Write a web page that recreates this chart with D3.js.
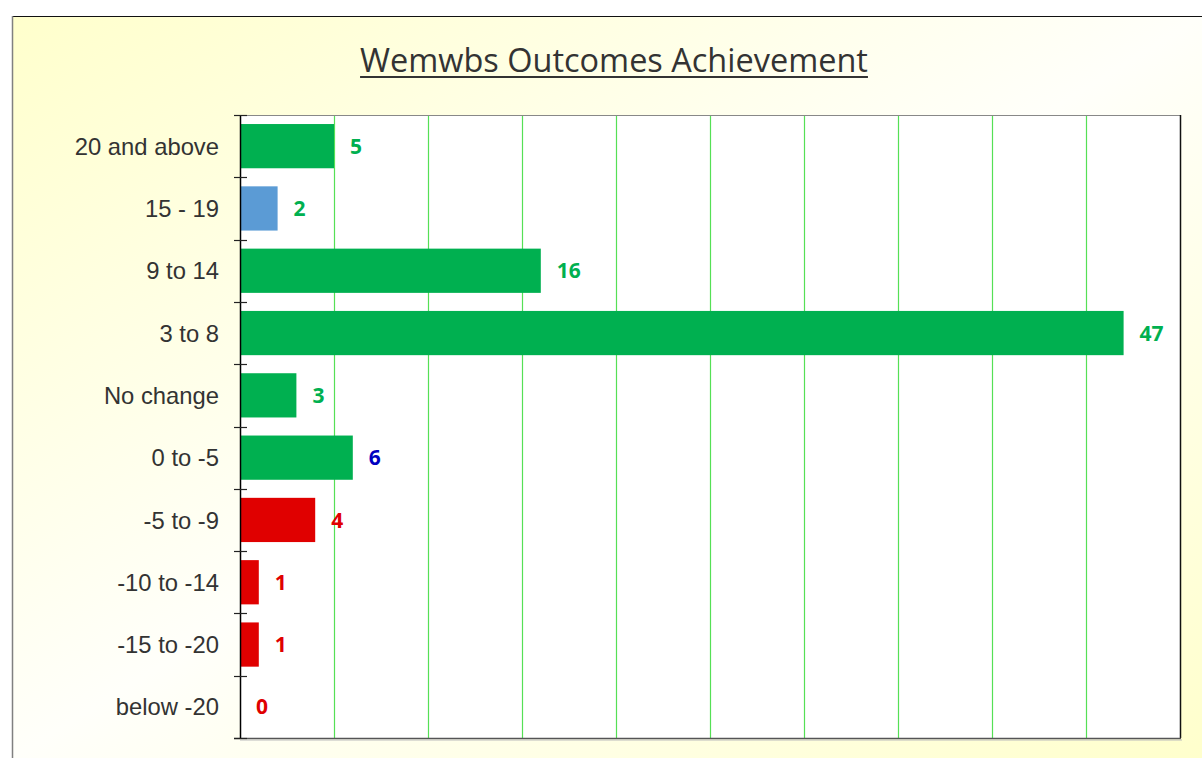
<!DOCTYPE html>
<html><head><meta charset="utf-8">
<script src="https://cdn.jsdelivr.net/npm/d3@7/dist/d3.min.js"></script>
<style>html,body{margin:0;padding:0;background:#fff;overflow:hidden}</style>
</head><body>
<svg id="c" width="1202" height="758"></svg>
<script>
const categories = ["20 and above","15 - 19","9 to 14","3 to 8","No change","0 to -5","-5 to -9","-10 to -14","-15 to -20","below -20"];
const values = [5, 2, 16, 47, 3, 6, 4, 1, 1, 0];
const barColors = ["#00b050","#5b9bd5","#00b050","#00b050","#00b050","#00b050","#e00000","#e00000","#e00000","#e00000"];
const labelColors = ["#00b050","#00b050","#00b050","#00b050","#00b050","#0000c0","#e00000","#e00000","#e00000","#e00000"];
const xTicks = [0,5,10,15,20,25,30,35,40,45,50];
const title = "Wemwbs Outcomes Achievement";

const svg = d3.select("#c");
const W = 1202, H = 758;
const defs = svg.append("defs");
const g = defs.append("linearGradient").attr("id","bg").attr("x1",0).attr("y1",0).attr("x2",1).attr("y2",1);
g.append("stop").attr("offset","0%").attr("stop-color","#ffffcc");
g.append("stop").attr("offset","50%").attr("stop-color","#fffffa");
g.append("stop").attr("offset","100%").attr("stop-color","#ffffcc");

svg.append("rect").attr("x",12).attr("y",16).attr("width",W-12).attr("height",H-16).attr("fill","url(#bg)");
svg.append("line").attr("x1",12).attr("y1",16.5).attr("x2",W).attr("y2",16.5).attr("stroke","#111").attr("stroke-width",1.2);
svg.append("line").attr("x1",12.5).attr("y1",16).attr("x2",12.5).attr("y2",H).attr("stroke","#808080").attr("stroke-width",1.5);

const L = 240, R = 1180, T = 115, B = 738;
const x = d3.scaleLinear().domain([0,50]).range([L,R]);
const pad = 0.29;
const y = d3.scaleBand().domain(categories).range([T,B]).paddingInner(pad).paddingOuter(pad/2);

svg.append("rect").attr("x",L).attr("y",T).attr("width",R-L).attr("height",B-T).attr("fill","#fff");

// gridlines
svg.append("g").selectAll("line").data(xTicks.filter(d=>d>0 && d<50)).join("line")
  .attr("x1",d=>Math.round(x(d))+0.5).attr("x2",d=>Math.round(x(d))+0.5)
  .attr("y1",T).attr("y2",B).attr("stroke","#55e055").attr("stroke-width",1.2);

// plot border
svg.append("line").attr("x1",L).attr("y1",T+0.5).attr("x2",R).attr("y2",T+0.5).attr("stroke","#888").attr("stroke-width",1.2);
svg.append("line").attr("x1",R+0.5).attr("y1",T).attr("x2",R+0.5).attr("y2",B).attr("stroke","#111").attr("stroke-width",1.5);
svg.append("line").attr("x1",L-6).attr("y1",B+0.5).attr("x2",R+1).attr("y2",B+0.5).attr("stroke","#555").attr("stroke-width",1.5);
svg.append("line").attr("x1",L).attr("y1",B+2).attr("x2",R+2).attr("y2",B+2).attr("stroke","#bbb").attr("stroke-width",1.2);

// bars
svg.append("g").selectAll("rect").data(values).join("rect")
  .attr("x",x(0)).attr("y",(d,i)=>y(categories[i]))
  .attr("width",d=>x(d)-x(0)).attr("height",y.bandwidth())
  .attr("fill",(d,i)=>barColors[i]);

// y axis
svg.append("line").attr("x1",L+0.5).attr("y1",T).attr("x2",L+0.5).attr("y2",B).attr("stroke","#000").attr("stroke-width",1.5);
const step = y.step();
const bounds = d3.range(categories.length+1).map(i=> i<categories.length ? y(categories[i]) - step*pad/2 : y(categories[i-1]) + y.bandwidth() + step*pad/2);
svg.append("g").selectAll("line").data(bounds).join("line")
  .attr("x1",L-6).attr("x2",L+7).attr("y1",d=>Math.round(d)+0.5).attr("y2",d=>Math.round(d)+0.5)
  .attr("stroke","#222").attr("stroke-width",1.2);

// category labels
svg.append("g").selectAll("text").data(categories).join("text")
  .attr("x",219).attr("y",d=>y(d)+y.bandwidth()/2)
  .attr("dy","0.36em").attr("text-anchor","end")
  .attr("font-family","'Liberation Sans', Arial, sans-serif").attr("font-size",23.8)
  .attr("fill","#333").text(d=>d);

// value labels
svg.append("g").selectAll("text").data(values).join("text")
  .attr("x",d=>x(d)+16).attr("y",(d,i)=>y(categories[i])+y.bandwidth()/2)
  .attr("dy","0.36em").attr("text-anchor","start")
  .attr("font-family","'Open Sans', sans-serif").attr("font-weight","bold").attr("font-size",21)
  .attr("fill",(d,i)=>labelColors[i]).text(d=>d);

// title
const tt = svg.append("text").attr("x",614).attr("y",72).attr("text-anchor","middle")
  .attr("font-family","'Open Sans', sans-serif").attr("font-size",30).attr("fill","#333").text(title);
const tw = tt.node().getComputedTextLength();
const fs = 30*508/tw;
tt.attr("font-size",fs);
const tw2 = tt.node().getComputedTextLength();
svg.append("line").attr("x1",614-tw2/2).attr("x2",614+tw2/2).attr("y1",77).attr("y2",77).attr("stroke","#333").attr("stroke-width",2);
</script>
</body></html>
